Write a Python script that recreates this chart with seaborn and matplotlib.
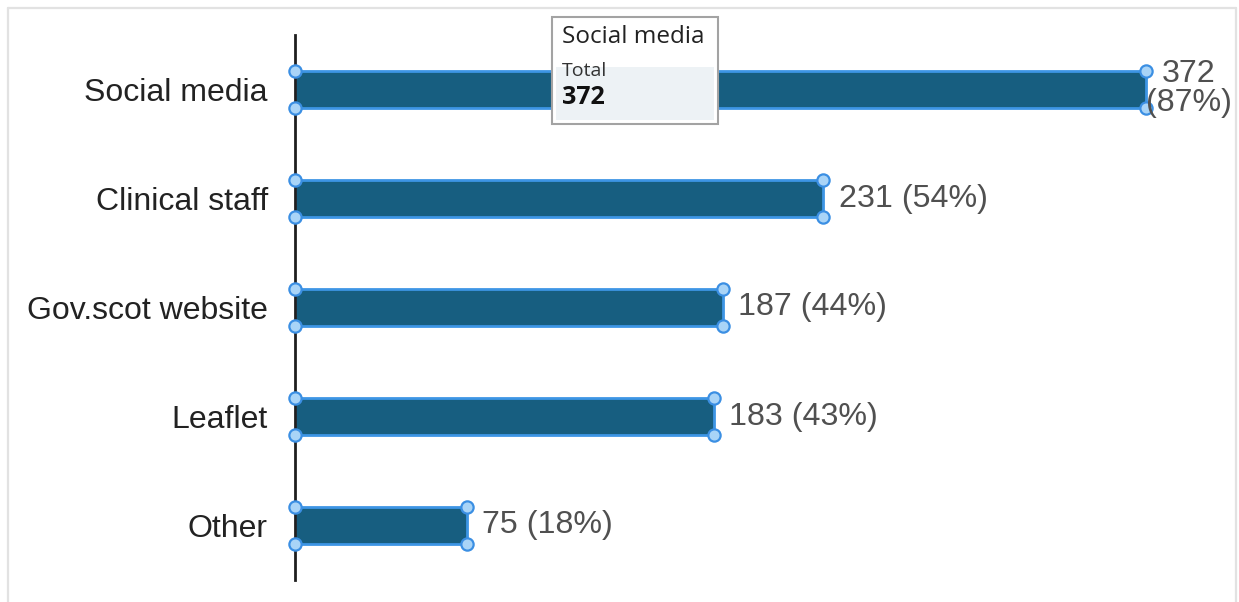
import matplotlib
matplotlib.use("Agg")
import matplotlib.pyplot as plt
import seaborn as sns
import pandas as pd
from matplotlib.patches import Rectangle
from matplotlib.lines import Line2D

# Survey responses: where people heard about the service
categories = ["Social media", "Clinical staff", "Gov.scot website", "Leaflet", "Other"]
totals = [372, 231, 187, 183, 75]
percents = [87, 54, 44, 43, 18]

sns.set_theme(style="white")
plt.rcParams["font.family"] = ["Liberation Sans", "DejaVu Sans"]

BAR = "#175e80"
EDGE = "#3d95e5"
HANDLE_FILL = "#a9d4f7"
HANDLE_EDGE = "#3b8fe3"

df = pd.DataFrame({"source": categories, "total": totals, "pct": percents})

W, H = 1239, 602
fig = plt.figure(figsize=(W / 100, H / 100), dpi=100)
ax = fig.add_axes([295 / W, (H - 580) / H, (W - 295) / W, (580 - 35) / H])

sns.barplot(data=df, y="source", x="total", orient="h", color=BAR,
            saturation=1, width=0.345, edgecolor=EDGE, linewidth=2, ax=ax, zorder=2)

ax.set_ylim(4.5, -0.5)
ax.set_xlim(0, (W - 295) / (851 / 372))
ax.set_xlabel("")
ax.set_ylabel("")
ax.set_xticks([])
for s in ["top", "right", "bottom"]:
    ax.spines[s].set_visible(False)
ax.spines["left"].set_color("#1f1f1f")
ax.spines["left"].set_linewidth(2)
ax.tick_params(axis="y", length=0, pad=19.5, labelsize=23.0, labelcolor="#222222")

# selection handles at each bar's corners
xs, ys = [], []
for p in ax.patches:
    x0, y0 = p.get_x(), p.get_y()
    x1, y1 = x0 + p.get_width(), y0 + p.get_height()
    xs += [x0, x1, x0, x1]
    ys += [y0, y0, y1, y1]
ax.scatter(xs, ys, s=78, facecolor=HANDLE_FILL, edgecolor=HANDLE_EDGE,
           linewidth=1.6, zorder=4, clip_on=False)

# value labels
top = max(totals)
for i, (v, pc) in enumerate(zip(totals, percents)):
    if v == top:
        ax.annotate(f"{v}\n({pc}%)", (v, i), xytext=(0, 1), textcoords="offset points",
                    ha="left", va="center", multialignment="center", linespacing=0.95,
                    fontsize=23.2, color="#505050", zorder=5)
    else:
        ax.annotate(f"{v} ({pc}%)", (v, i), xytext=(11, 0), textcoords="offset points",
                    ha="left", va="center", fontsize=23.2, color="#505050", zorder=5)

# light frame around the chart area (open at the bottom)
fc = "#e2e2e2"
def fx(px):
    return px / W
def fy(py):
    return (H - py) / H
fig.add_artist(Line2D([fx(8), fx(8)], [fy(8), 0], color=fc, lw=1.6, transform=fig.transFigure))
fig.add_artist(Line2D([fx(8), fx(1236)], [fy(8), fy(8)], color=fc, lw=1.6, transform=fig.transFigure))
fig.add_artist(Line2D([fx(1236), fx(1236)], [fy(8), 0], color=fc, lw=1.6, transform=fig.transFigure))

# hover tooltip for the first bar
tip_x0, tip_x1, tip_y0, tip_y1 = 552, 718, 17, 124
fig.add_artist(Rectangle((fx(tip_x0), fy(tip_y1)), fx(tip_x1) - fx(tip_x0), fy(tip_y0) - fy(tip_y1),
                         transform=fig.transFigure, facecolor="white", edgecolor="#a3a3a3",
                         lw=1.5, zorder=10))
fig.add_artist(Rectangle((fx(556), fy(120)), fx(714) - fx(556), fy(67) - fy(120),
                         transform=fig.transFigure, facecolor="#edf2f5", edgecolor="none",
                         zorder=11))
tip_font = ["Open Sans", "DejaVu Sans"]
fig.text(fx(562), fy(37), categories[0], family=tip_font, fontsize=17.5, color="#222222",
         ha="left", va="center", zorder=12)
fig.text(fx(562), fy(71), "Total", family=tip_font, fontsize=14, color="#333333",
         ha="left", va="center", zorder=12)
fig.text(fx(562), fy(98), f"{totals[0]}", family=tip_font, fontsize=18, fontweight="bold",
         color="#111111", ha="left", va="center", zorder=12)

fig.savefig("out.png", dpi=100, facecolor="white")
